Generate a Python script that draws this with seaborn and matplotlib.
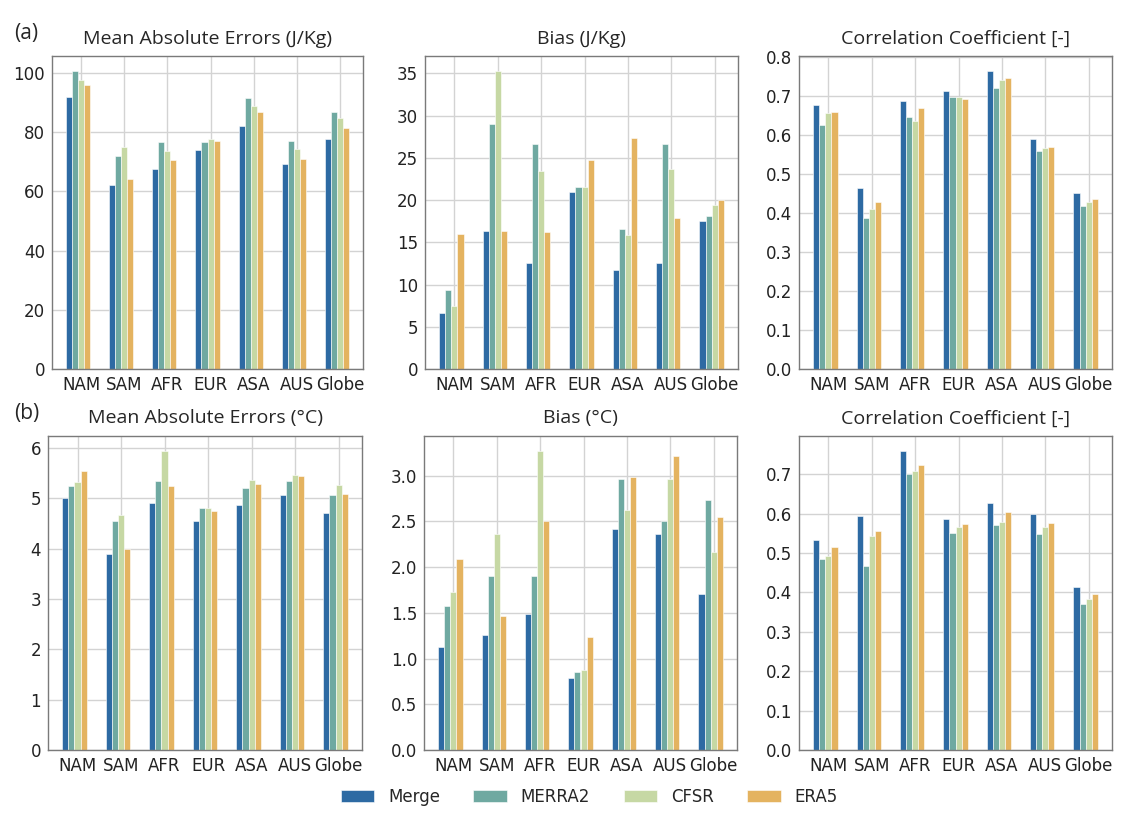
import matplotlib
matplotlib.use("Agg")
import matplotlib.pyplot as plt
import seaborn as sns
import pandas as pd
import numpy as np

sns.set_style("whitegrid")
plt.rcParams['font.family'] = ['DejaVu Sans']

regions = ['NAM', 'SAM', 'AFR', 'EUR', 'ASA', 'AUS', 'Globe']
products = ['Merge', 'MERRA2', 'CFSR', 'ERA5']
colors = ['#2d6aa3', '#6fa9a1', '#c6d8a4', '#e4b360']

# (a) J/Kg panels, rows = Merge, MERRA2, CFSR, ERA5
mae_jkg = [[91.8, 62.2, 67.6, 74.0, 82.2, 69.2, 77.8],
           [100.7, 72.1, 76.8, 76.8, 91.7, 77.1, 86.7],
           [97.6, 74.9, 73.5, 77.8, 88.7, 74.4, 84.7],
           [95.9, 64.2, 70.7, 77.0, 86.8, 70.9, 81.3]]
bias_jkg = [[6.6, 16.3, 12.5, 21.0, 11.7, 12.5, 17.5],
            [9.4, 29.0, 26.6, 21.5, 16.6, 26.6, 18.1],
            [7.5, 35.3, 23.5, 21.6, 15.9, 23.7, 19.4],
            [16.0, 16.4, 16.2, 24.8, 27.3, 17.9, 20.0]]
corr_jkg = [[0.677, 0.463, 0.688, 0.713, 0.764, 0.590, 0.451],
            [0.625, 0.386, 0.645, 0.698, 0.719, 0.559, 0.418],
            [0.657, 0.410, 0.635, 0.698, 0.740, 0.566, 0.429],
            [0.659, 0.428, 0.668, 0.693, 0.745, 0.568, 0.436]]

# (b) degC panels
mae_degc = [[5.00, 3.89, 4.90, 4.55, 4.86, 5.06, 4.70],
            [5.25, 4.55, 5.34, 4.80, 5.21, 5.35, 5.07],
            [5.33, 4.66, 5.94, 4.80, 5.37, 5.47, 5.27],
            [5.54, 4.00, 5.25, 4.74, 5.29, 5.44, 5.09]]
bias_degc = [[1.13, 1.26, 1.49, 0.79, 2.42, 2.36, 1.71],
             [1.57, 1.90, 1.90, 0.85, 2.96, 2.50, 2.73],
             [1.73, 2.36, 3.27, 0.87, 2.62, 2.96, 2.17],
             [2.09, 1.47, 2.50, 1.24, 2.99, 3.21, 2.55]]
corr_degc = [[0.533, 0.593, 0.759, 0.587, 0.628, 0.599, 0.413],
             [0.485, 0.466, 0.700, 0.551, 0.572, 0.549, 0.371],
             [0.493, 0.544, 0.708, 0.565, 0.579, 0.567, 0.383],
             [0.515, 0.555, 0.724, 0.574, 0.604, 0.576, 0.397]]

panels = [
    (mae_jkg, 'Mean Absolute Errors (J/Kg)', '(a)', [52, 56, 363, 369]),
    (bias_jkg, 'Bias (J/Kg)', None, [425, 56, 738, 369]),
    (corr_jkg, 'Correlation Coefficient [-]', None, [799, 56, 1112, 369]),
    (mae_degc, 'Mean Absolute Errors (°C)', '(b)', [48, 436, 362, 750]),
    (bias_degc, 'Bias (°C)', None, [424, 436, 737, 750]),
    (corr_degc, 'Correlation Coefficient [-]', None, [799, 436, 1112, 750]),
]

W, H = 1142, 825
fig = plt.figure(figsize=(W / 100, H / 100), dpi=100)

handles = None
for vals, title, tag, (x0, y0, x1, y1) in panels:
    ax = fig.add_axes([x0 / W, 1 - y1 / H, (x1 - x0) / W, (y1 - y0) / H])
    df = pd.DataFrame({
        'Region': np.tile(regions, len(products)),
        'Product': np.repeat(products, len(regions)),
        'Value': np.concatenate(vals),
    })
    sns.barplot(data=df, x='Region', y='Value', hue='Product', palette=colors,
                width=0.56, saturation=1, edgecolor='white', linewidth=0.4,
                ax=ax)
    if handles is None:
        handles, labels = ax.get_legend_handles_labels()
    ax.get_legend().remove()
    # groups sit slightly left of the tick, as in the original
    ax.set_xticks(np.arange(len(regions)) + 0.07)
    ax.set_xticklabels(regions)
    ax.set_xlim(-0.608, len(regions) - 1 + 0.608)
    ax.set_xlabel('')
    ax.set_ylabel('')
    ax.grid(True, color='#d3d3d3', linewidth=1)
    ax.set_axisbelow(True)
    for s in ax.spines.values():
        s.set_color('#7a7a7a')
        s.set_linewidth(1)
    ax.tick_params(axis='both', labelsize=12, colors='#222222', length=3,
                   color='#7a7a7a', pad=2)
    ax.set_title(title, fontsize=14, family=['Open Sans', 'DejaVu Sans'],
                 pad=9)
    if tag:
        fig.text(14 / W, 1 - (y0 - 23) / H, tag, fontsize=15,
                 family=['Open Sans', 'DejaVu Sans'], va='center', ha='left')

fig.legend(handles, labels, loc='center', bbox_to_anchor=(0.516, 1 - 797 / H),
           ncol=4, frameon=False, fontsize=12, handlelength=2.0,
           handleheight=0.75, handletextpad=0.85, columnspacing=2.0)

fig.savefig('out.png', dpi=100)
